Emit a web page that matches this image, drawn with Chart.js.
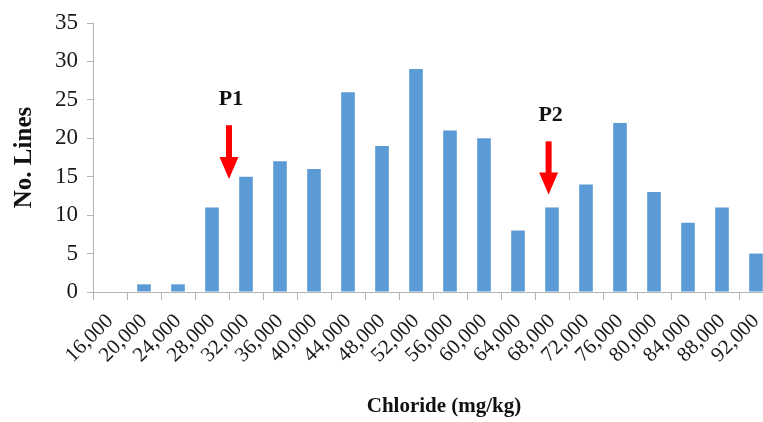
<!DOCTYPE html>
<html>
<head>
<meta charset="utf-8">
<script src="https://cdn.jsdelivr.net/npm/chart.js@4.4.1/dist/chart.umd.min.js"></script>
<style>
    html, body { margin: 0; padding: 0; background: #ffffff; overflow: hidden; }
    #chloride { display: block; }
</style>
</head>
<body>
<canvas id="chloride" width="780" height="422"></canvas>
<script>
// Chloride bins (mg/kg) and number of lines in each bin
var chlorideBins = ['16,000', '20,000', '24,000', '28,000', '32,000', '36,000', '40,000',
    '44,000', '48,000', '52,000', '56,000', '60,000', '64,000', '68,000', '72,000',
    '76,000', '80,000', '84,000', '88,000', '92,000'];
var lineCounts = [0, 1, 1, 11, 15, 17, 16, 26, 19, 29, 21, 20, 8, 11, 14, 22, 13, 9, 11, 5];

// y axis ticks
var yTicks = [0, 5, 10, 15, 20, 25, 30, 35];

// marked points: label, category position, arrow top and tip, label height (in data units)
var markers = ['P1', 'P2'];
var markerAt = [3.5, 12.9];
var arrowTop = [21.7, 19.6];
var arrowTip = [14.7, 12.7];
var markerLabelY = [25.1, 23.0];

var serif = '"Liberation Serif", "Times New Roman", serif';
var axisGrey = '#b4b4b4';

// draws the red arrows with their labels, plus the x axis title
var markerPlugin = {
    id: 'markers',
    afterDatasetsDraw: function (chart) {
        var ctx = chart.ctx;
        var x = chart.scales.x;
        var y = chart.scales.y;
        ctx.save();
        for (let i = 0; i < markers.length; i++) {
            let px = x.getPixelForValue(markerAt[i]);
            let top = y.getPixelForValue(arrowTop[i]);
            let tip = y.getPixelForValue(arrowTip[i]);
            let head = 22;
            ctx.fillStyle = '#ff0000';
            ctx.fillRect(px - 3, top, 6, tip - top - head + 1);
            ctx.beginPath();
            ctx.moveTo(px - 9.5, tip - head);
            ctx.lineTo(px + 9.5, tip - head);
            ctx.lineTo(px, tip);
            ctx.closePath();
            ctx.fill();

            ctx.fillStyle = '#111111';
            ctx.font = 'bold 22px ' + serif;
            ctx.textAlign = 'center';
            ctx.textBaseline = 'middle';
            ctx.fillText(markers[i], px + 2, y.getPixelForValue(markerLabelY[i]));
        }
        ctx.fillStyle = '#111111';
        ctx.font = 'bold 21px ' + serif;
        ctx.textAlign = 'center';
        ctx.textBaseline = 'middle';
        ctx.fillText('Chloride (mg/kg)', (chart.chartArea.left + chart.chartArea.right) / 2 + 11, 407);
        ctx.restore();
    }
};

new Chart(
    document.getElementById('chloride'),
    {
        type: 'bar',
        data: {
            labels: chlorideBins,
            datasets: [
                {
                    label: 'No. Lines',
                    data: lineCounts,
                    backgroundColor: '#5b9bd5',
                    borderWidth: 0,
                    categoryPercentage: 1,
                    barPercentage: 0.4
                }
            ]
        },
        options: {
            responsive: false,
            animation: false,
            devicePixelRatio: 1,
            layout: {
                padding: { top: 23, right: 7, bottom: 0, left: 0 }
            },
            plugins: {
                legend: { display: false },
                tooltip: { enabled: false }
            },
            scales: {
                x: {
                    offset: true,
                    grid: {
                        offset: true,
                        drawOnChartArea: false,
                        drawTicks: true,
                        tickLength: 8,
                        color: axisGrey
                    },
                    border: { display: true, color: axisGrey, width: 1 },
                    ticks: {
                        autoSkip: false,
                        minRotation: 45,
                        maxRotation: 45,
                        padding: 9,
                        color: '#1a1a1a',
                        font: { family: serif, size: 21 }
                    },
                    afterFit: function (scale) {
                        scale.height = 130;
                        scale.paddingLeft = 0;
                        scale.paddingRight = 0;
                    }
                },
                y: {
                    min: 0,
                    max: 35,
                    afterBuildTicks: function (scale) {
                        scale.ticks = yTicks.map(v => ({ value: v }));
                    },
                    grid: {
                        drawOnChartArea: false,
                        drawTicks: true,
                        tickLength: 6,
                        color: axisGrey
                    },
                    border: { display: true, color: axisGrey, width: 1 },
                    ticks: {
                        padding: 9,
                        color: '#1a1a1a',
                        font: { family: serif, size: 23 }
                    },
                    title: {
                        display: true,
                        text: 'No. Lines',
                        color: '#111111',
                        padding: { top: 10, bottom: 0 },
                        font: { family: serif, size: 25, weight: 'bold' }
                    },
                    afterFit: function (scale) {
                        scale.width = 93;
                        scale.paddingTop = 0;
                        scale.paddingBottom = 0;
                    }
                }
            }
        },
        plugins: [markerPlugin]
    }
);
</script>
</body>
</html>
